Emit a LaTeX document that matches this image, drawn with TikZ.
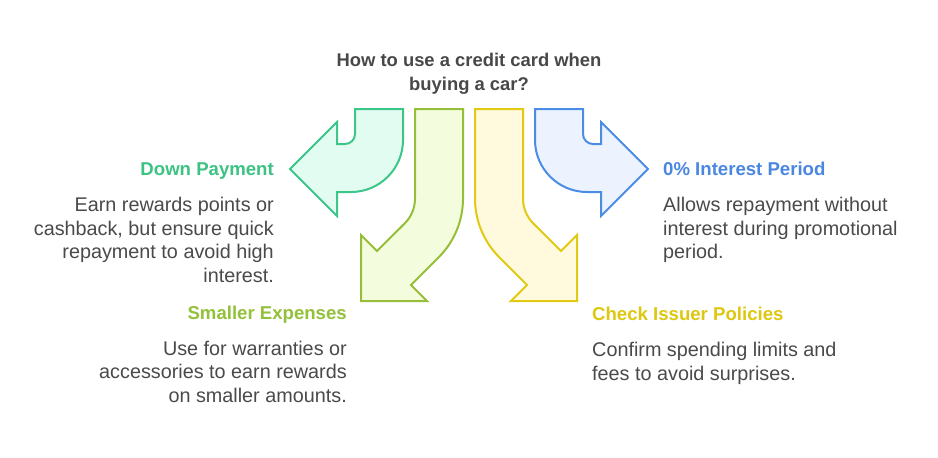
\documentclass[tikz,border=0pt]{standalone}
\usepackage{fontspec}
\setmainfont{Liberation Sans}
\definecolor{gstroke}{HTML}{3CC68A}
\definecolor{gfill}{HTML}{E2FCF1}
\definecolor{lstroke}{HTML}{96BE38}
\definecolor{lfill}{HTML}{F3FDDD}
\definecolor{ystroke}{HTML}{E2C913}
\definecolor{yfill}{HTML}{FFFADD}
\definecolor{bstroke}{HTML}{4B8DE6}
\definecolor{bfill}{HTML}{ECF3FE}
\definecolor{gtext}{HTML}{3CC383}
\definecolor{ltext}{HTML}{93C13A}
\definecolor{ytext}{HTML}{DEC70F}
\definecolor{btext}{HTML}{4A87E0}
\definecolor{bodygray}{HTML}{4A4A4A}
\definecolor{titlegray}{HTML}{484848}
\newcommand\shapeCurl{(355,109) -- (403,109) -- (403,140) arc[start angle=0,end angle=90,radius=52] -- (337,192) -- (337,216) -- (290,169) -- (337,122) -- (337,144) -- (345,144) arc[start angle=90,end angle=0,radius=10] -- cycle}
\newcommand\shapeBend{(415,109) -- (463,109) -- (463,198.6) arc[start angle=0,end angle=45,radius=83] -- (411,285) -- (427,301) -- (361,301) -- (361,235) -- (377,251) -- (404.75,223.35) arc[start angle=45,end angle=0,radius=35] -- cycle}
\begin{document}
\begin{tikzpicture}[x=1pt,y=-1pt,
  arrowshape/.style={line width=2pt,line join=miter},
  headtext/.style={font=\fontsize{18.6}{24}\selectfont\bfseries,inner sep=0pt},
  bodytext/.style={font=\fontsize{19.8}{23.5}\selectfont,text=bodygray,inner sep=0pt},
  titletext/.style={font=\fontsize{18.4}{24}\selectfont\bfseries,text=titlegray,inner sep=0pt,align=center}]
\useasboundingbox[fill=white] (0,0) rectangle (938,458);
\draw[arrowshape,draw=gstroke,fill=gfill] \shapeCurl;
\draw[arrowshape,draw=lstroke,fill=lfill] \shapeBend;
\begin{scope}[shift={(938,0)},xscale=-1]
\draw[arrowshape,draw=bstroke,fill=bfill] \shapeCurl;
\draw[arrowshape,draw=ystroke,fill=yfill] \shapeBend;
\end{scope}
% multi-line nodes: base anchor = baseline of the last line
\node[titletext,anchor=base] (title) at (469,90.5) {How to use a credit card when\\buying a car?};
\node[headtext,text=gtext,anchor=base east] (dph) at (274,175) {Down Payment};
\node[bodytext,anchor=base east,align=right] (dpb) at (274,282) {Earn rewards points or\\cashback, but ensure quick\\repayment to avoid high\\interest.};
\node[headtext,text=btext,anchor=base west] (iph) at (663,175) {0\% Interest Period};
\node[bodytext,anchor=base west,align=left] (ipb) at (663,258.5) {Allows repayment without\\interest during promotional\\period.};
\node[headtext,text=ltext,anchor=base east] (seh) at (347,319) {Smaller Expenses};
\node[bodytext,anchor=base east,align=right] (seb) at (347,402) {Use for warranties or\\accessories to earn rewards\\on smaller amounts.};
\node[headtext,text=ytext,anchor=base west] (cih) at (592,320) {Check Issuer Policies};
\node[bodytext,anchor=base west,align=left] (cib) at (592,380) {Confirm spending limits and\\fees to avoid surprises.};
\end{tikzpicture}
\end{document}
